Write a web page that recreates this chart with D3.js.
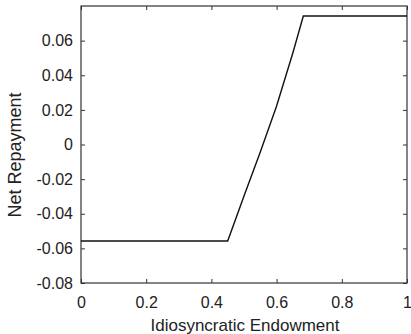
<!DOCTYPE html>
<html>
<head>
<meta charset="utf-8">
<script src="https://cdn.jsdelivr.net/npm/d3@7"></script>
<style>
  body { margin: 0; background: #fff; }
  svg text { font-family: "Liberation Sans", Arial, sans-serif; fill: #222; }
</style>
</head>
<body>
<svg id="chart" width="411" height="334"></svg>
<script>
// values
const endowment = [0, 0.45, 0.50, 0.55, 0.60, 0.65, 0.682, 1];
const repayment = [-0.0557, -0.0557, -0.0297, -0.0044, 0.0222, 0.053, 0.0742, 0.0742];
const xTicks = [0, 0.2, 0.4, 0.6, 0.8, 1];
const yTicks = [-0.08, -0.06, -0.04, -0.02, 0, 0.02, 0.04, 0.06];

const plotLeft = 81, plotRight = 407, plotTop = 6, plotBottom = 283;
const svg = d3.select('#chart');

const x = d3.scaleLinear().domain([0, 1]).range([plotLeft, plotRight]);
const y = d3.scaleLinear().domain([-0.08, 0.08]).range([plotBottom, plotTop]);

const fmtX = d => d === 0 ? '0' : d === 1 ? '1' : d3.format('.1f')(d);
const fmtY = d => d === 0 ? '0' : d3.format('.2f')(d).replace('−', '-');

// bottom axis
svg.append('g')
  .attr('transform', `translate(0, ${plotBottom})`)
  .call(d3.axisBottom(x).tickValues(xTicks).tickSizeInner(-4).tickSizeOuter(0).tickPadding(14)
    .tickFormat(fmtX));
// left axis
svg.append('g')
  .attr('transform', `translate(${plotLeft}, 0)`)
  .call(d3.axisLeft(y).tickValues(yTicks).tickSizeInner(-4).tickSizeOuter(0).tickPadding(8)
    .tickFormat(fmtY));
// top and right mirrored ticks
svg.append('g')
  .attr('transform', `translate(0, ${plotTop})`)
  .call(d3.axisTop(x).tickValues(xTicks).tickSizeInner(-4).tickSizeOuter(0).tickFormat(''));
svg.append('g')
  .attr('transform', `translate(${plotRight}, 0)`)
  .call(d3.axisRight(y).tickValues(yTicks).tickSizeInner(-4).tickSizeOuter(0).tickFormat(''));

svg.selectAll('.domain').remove();
svg.selectAll('.tick line').attr('stroke', '#333');
svg.selectAll('.tick text').style('font-size', '16px').attr('fill', '#222');

// frame
svg.append('rect')
  .attr('x', plotLeft).attr('y', plotTop)
  .attr('width', plotRight - plotLeft).attr('height', plotBottom - plotTop)
  .attr('fill', 'none').attr('stroke', '#333').attr('stroke-width', 1.2);

// data line
svg.append('path')
  .datum(endowment.map((e, i) => [e, repayment[i]]))
  .attr('fill', 'none')
  .attr('stroke', '#111')
  .attr('stroke-width', 1.4)
  .attr('d', d3.line().x(d => x(d[0])).y(d => y(d[1])));

// axis labels
svg.append('text')
  .attr('x', 245).attr('y', 331)
  .attr('text-anchor', 'middle')
  .style('font-size', '17px')
  .text('Idiosyncratic Endowment');

svg.append('text')
  .attr('transform', 'translate(21, 155) rotate(-90)')
  .attr('text-anchor', 'middle')
  .style('font-size', '18px')
  .text('Net Repayment');
</script>
</body>
</html>
